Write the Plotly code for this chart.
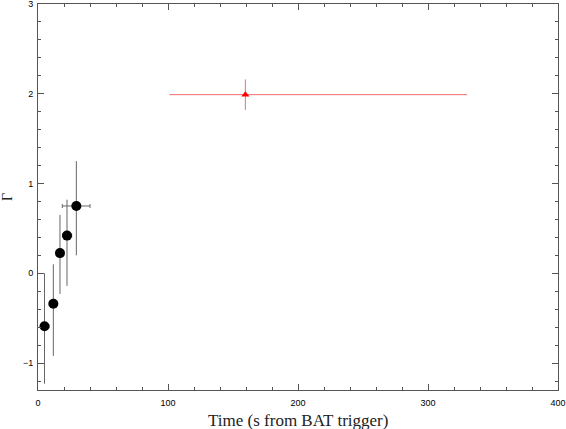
import plotly.graph_objects as go

# early BAT intervals (black circles)
t_early = [5.0, 11.8, 16.9, 22.3, 29.5]
t_early_minus = [3.0, 3.1, 2.5, 3.3, 10.8]
t_early_plus = [3.5, 3.0, 2.6, 3.6, 10.5]
gamma_early = [-0.59, -0.34, 0.225, 0.42, 0.75]
gamma_early_plus = [0.59, 0.44, 0.425, 0.40, 0.50]
gamma_early_minus = [0.64, 0.58, 0.455, 0.56, 0.55]

# later interval (red triangle)
t_late = [159.5]
t_late_minus = [58.5]
t_late_plus = [170.5]
gamma_late = [1.99]
gamma_late_err = [0.17]

axis_col = "#555555"

fig = go.Figure()

fig.add_trace(go.Scatter(
    x=t_late, y=gamma_late, mode="markers",
    marker=dict(symbol="triangle-up", size=7, color="red"),
    error_x=dict(type="data", symmetric=False, array=t_late_plus,
                 arrayminus=t_late_minus, color="rgb(240,110,110)",
                 thickness=1, width=0),
    error_y=dict(type="data", array=gamma_late_err,
                 color="rgb(240,110,110)", thickness=1, width=0),
    showlegend=False,
))

fig.add_trace(go.Scatter(
    x=t_early, y=gamma_early, mode="markers",
    marker=dict(symbol="circle", size=10, color="black"),
    error_x=dict(type="data", symmetric=False, array=t_early_plus,
                 arrayminus=t_early_minus, color="#666666",
                 thickness=1, width=2),
    error_y=dict(type="data", symmetric=False, array=gamma_early_plus,
                 arrayminus=gamma_early_minus, color="#666666",
                 thickness=1, width=0),
    showlegend=False,
))

common = dict(
    showline=True, linecolor=axis_col, linewidth=1, mirror="allticks",
    ticks="inside", ticklen=6, tickcolor=axis_col, tickwidth=1,
    showgrid=False, zeroline=False, automargin=False,
    ticklabeloverflow="allow",
    tickfont=dict(family="Liberation Sans", size=9, color="black"),
)

fig.update_layout(
    width=566, height=429,
    margin=dict(l=38, r=8, t=4, b=39),
    paper_bgcolor="white", plot_bgcolor="white",
    xaxis=dict(range=[0, 400], dtick=100, tick0=0, ticklabelstandoff=4,
               minor=dict(dtick=20, ticks="inside", ticklen=3,
                          tickcolor=axis_col, showgrid=False),
               **common),
    yaxis=dict(range=[-1.3, 3], dtick=1, tick0=0, ticklabelstandoff=2,
               minor=dict(dtick=0.2, ticks="inside", ticklen=3,
                          tickcolor=axis_col, showgrid=False),
               title=dict(text="Γ", standoff=24,
                          font=dict(family="Liberation Serif", size=14,
                                    color="#222222")),
               **common),
    # x title as an annotation so it can sit lower than plotly's title slot
    annotations=[dict(text="Time (s from BAT trigger)", showarrow=False,
                      xref="paper", yref="paper", x=0.5, y=-0.078,
                      xanchor="center", yanchor="middle",
                      font=dict(family="Liberation Serif", size=17,
                                color="#222222"))],
)

# drop the browser's default body margin so the figure sits at the page corner
fig.write_html("out.html", config={"displayModeBar": False},
               post_script="document.body.style.margin='0';")
